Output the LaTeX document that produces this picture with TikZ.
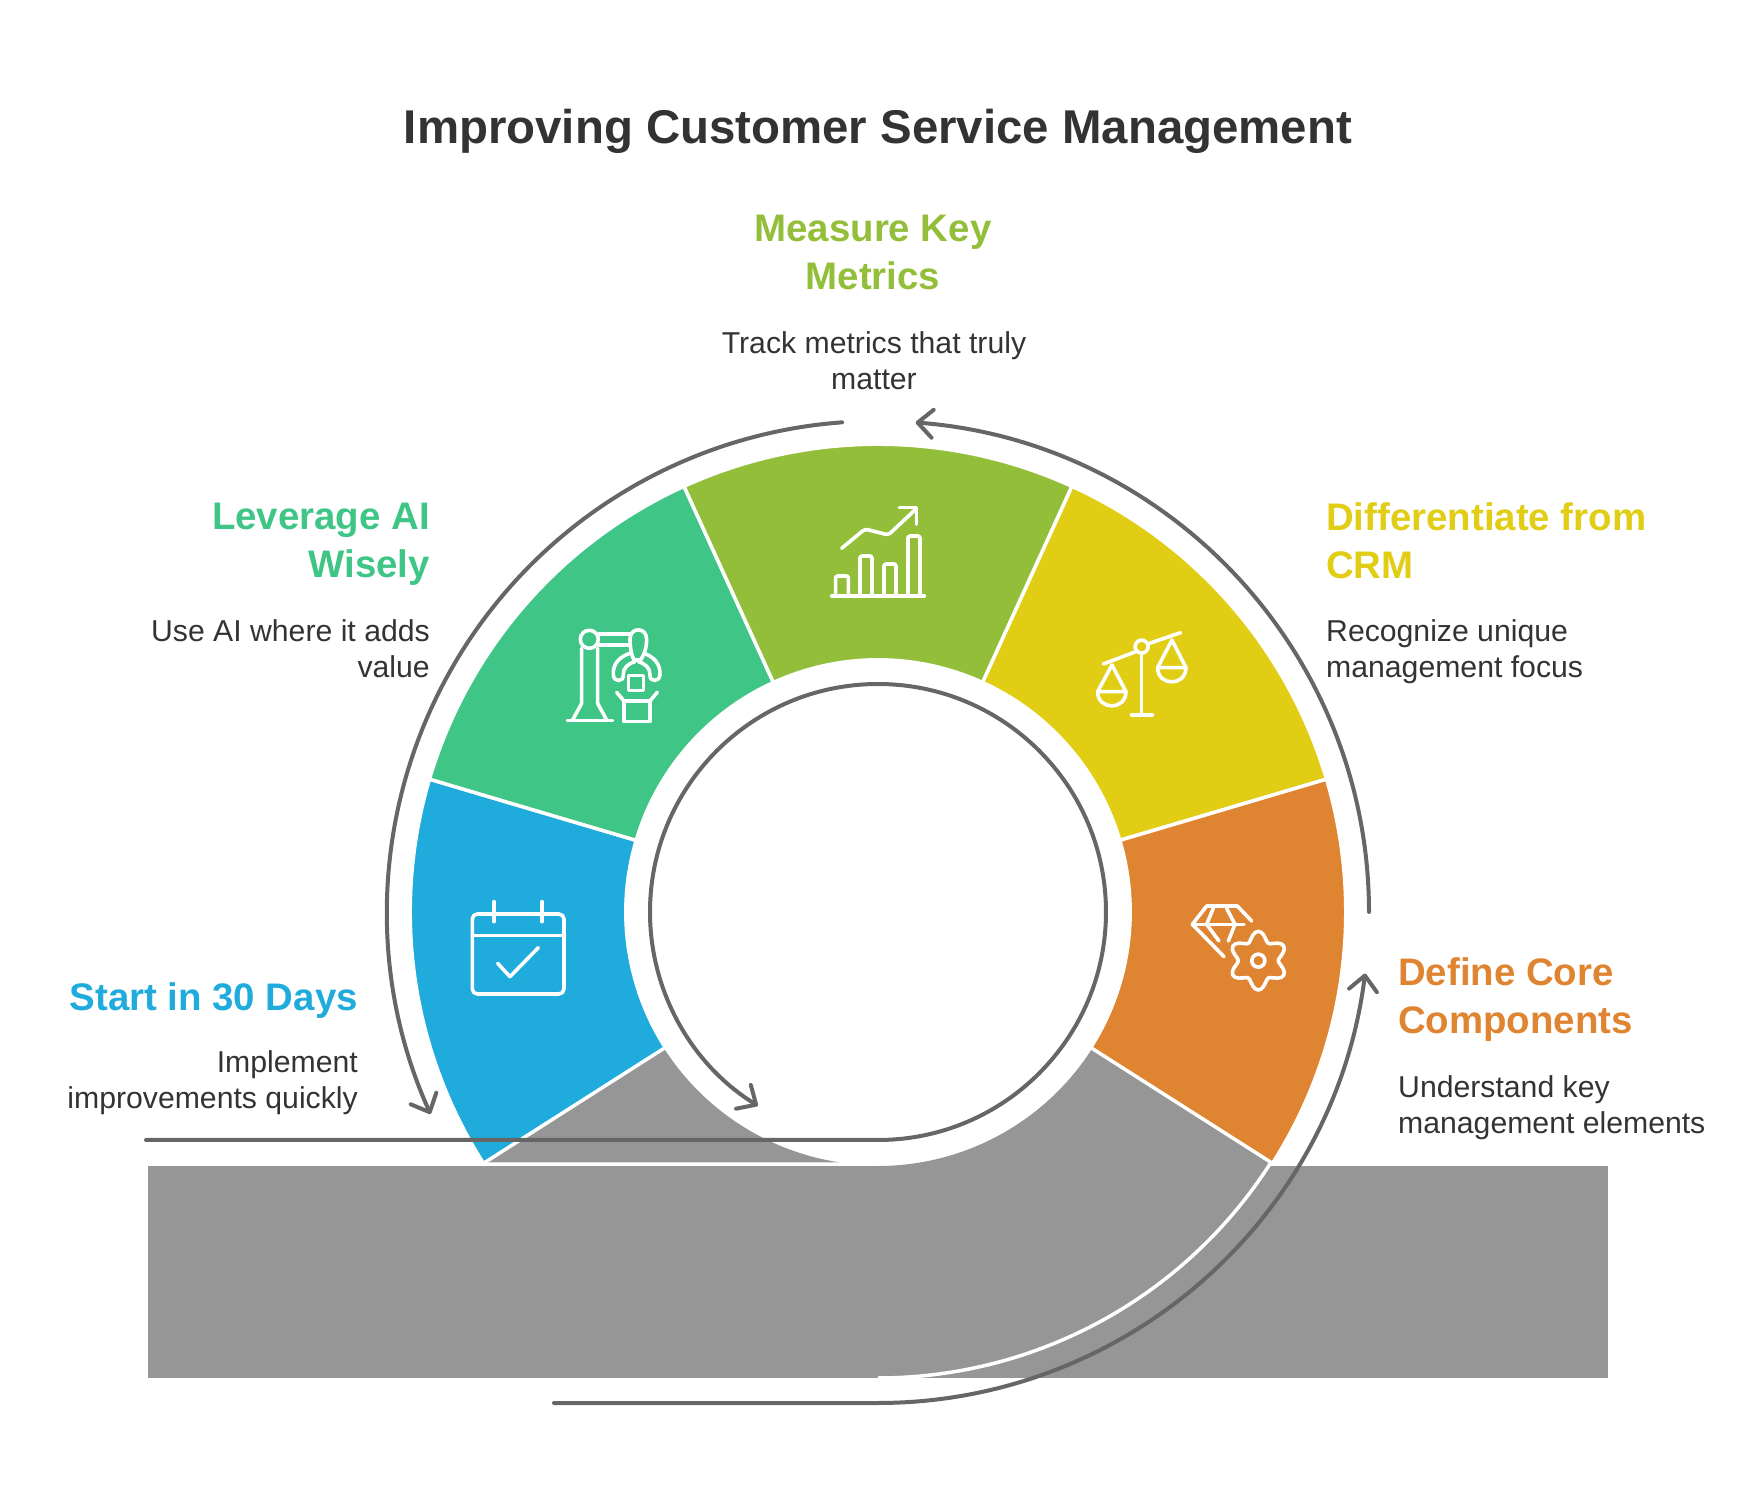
\documentclass[tikz,border=0pt]{standalone}
\usepackage{fontspec}
\setmainfont{Liberation Sans}
\usetikzlibrary{arrows.meta}
\definecolor{inkdark}{HTML}{333333}
\definecolor{flowgray}{HTML}{666666}
\definecolor{bandgray}{HTML}{969696}
\definecolor{stepblue}{HTML}{1FABDC}
\definecolor{stepgreen}{HTML}{3FC585}
\definecolor{steplime}{HTML}{93BE3A}
\definecolor{stepyellow}{HTML}{E0CD14}
\definecolor{steporange}{HTML}{DF8431}
\tikzset{
  flow/.style={draw=flowgray,line width=4pt,line cap=round,-{Straight Barb[length=15pt,width=28pt,round]}},
  sector/.style={draw=white,line width=3.5pt,line join=miter},
  icon/.style={draw=white,line width=3.6pt,line cap=round,line join=round},
  heading/.style={inner sep=0pt,font=\fontsize{38.4}{48}\selectfont\bfseries},
  blurb/.style={inner sep=0pt,text=inkdark,font=\fontsize{30.2}{36}\selectfont}
}
\begin{document}
\begin{tikzpicture}[x=1pt,y=1pt]
  \useasboundingbox (-878,-586) rectangle (878,912);
  % band under the ring
  \fill[bandgray] (-730,-254) rectangle (730,-466);
  \fill[bandgray] (212.5:254) -- (212.5:466) -- (-39,-250.3)
    arc[start angle=261.2,end angle=212.5,radius=254] -- cycle;
  \fill[bandgray] (0,-254) arc[start angle=270,end angle=327.5,radius=254]
    -- (-32.5:466) -- (392,-254) -- cycle;
  \draw[white,line width=3.5pt] (-32.5:466) arc[start angle=-32.5,end angle=-90,radius=466];
  % ring
  \foreach \a/\c in {212.5/stepblue,163.5/stepgreen,114.5/steplime,65.5/stepyellow,16.5/steporange}{
    \draw[sector,fill=\c] (\a:252.2) arc[start angle=\a,end angle=\a-49,radius=252.2]
      -- (\a-49:467.8) arc[start angle=\a-49,end angle=\a,radius=467.8] -- cycle;
  }
  % arrows
  \coordinate (innerstart) at (-732,-228);
  \coordinate (innerbottom) at (0,-228);
  \coordinate (leftstart) at (94.2:491);
  \coordinate (rightstart) at (0:491);
  \coordinate (lowstart) at (-324,-491);
  \coordinate (lowbottom) at (0,-491);
  \draw[flow] (innerstart) -- (innerbottom) arc[start angle=-90,end angle=238.2,radius=228];
  \draw[flow] (leftstart) arc[start angle=94.2,end angle=204.3,radius=491];
  \draw[flow] (rightstart) arc[start angle=0,end angle=85.6,radius=491];
  \draw[flow] (lowstart) -- (lowbottom) arc[start angle=-90,end angle=-7.2,radius=491];
  % texts
  \node[anchor=center,inner sep=0pt,text=inkdark,font=\fontsize{47.4}{52}\selectfont\bfseries] (title) at (0,780.5)
    {Improving Customer Service Management};
  \node[heading,anchor=north,align=center,text=steplime] (measurehead) at (-5,697) {Measure Key\\Metrics};
  \node[blurb,anchor=north,align=center] (measuretext) at (-4,581) {Track metrics that truly\\matter};
  \node[heading,anchor=north east,align=right,text=stepgreen] (aihead) at (-448,409) {Leverage AI\\Wisely};
  \node[blurb,anchor=north east,align=right] (aitext) at (-448,293) {Use AI where it adds\\value};
  \node[heading,anchor=north west,align=left,text=stepyellow] (crmhead) at (448,410) {Differentiate from\\CRM};
  \node[blurb,anchor=north west,align=left] (crmtext) at (448,293) {Recognize unique\\management focus};
  \node[heading,anchor=north east,align=right,text=stepblue] (starthead) at (-520,-70) {Start in 30 Days};
  \node[blurb,anchor=north east,align=right] (starttext) at (-520,-138.5) {Implement\\improvements quickly};
  \node[heading,anchor=north west,align=left,text=steporange] (corehead) at (520,-45) {Define Core\\Components};
  \node[blurb,anchor=north west,align=left] (coretext) at (520,-163) {Understand key\\management elements};
  % chart icon
  \begin{scope}[shift={(-78,432)},x=.3333pt,y=-.3333pt,icon]
    \draw (95,348) -- (373,348);
    \draw[rounded corners=2pt] (107,345) -- (107,288) -- (145,288) -- (145,345);
    \draw[rounded corners=2pt] (180,345) -- (180,228) -- (216,228) -- (216,345);
    \draw[rounded corners=2pt] (252,345) -- (252,252) -- (288,252) -- (288,345);
    \draw[rounded corners=2pt] (324,345) -- (324,168) -- (360,168) -- (360,345);
    \draw[rounded corners=3pt] (125,205) -- (195,147) -- (265,165) -- (350,85);
    \draw (298,83) -- (350,83) -- (350,133);
  \end{scope}
  % scales icon
  \begin{scope}[shift={(-78,432)},x=.3333pt,y=-.3333pt,icon]
    \draw (1025,500) circle[radius=6.5pt];
    \draw (1025,520) -- (1025,705);
    \draw (995,705) -- (1057,705);
    \draw (910,552) -- (1008,515);
    \draw (1043,492) -- (1142,458);
    \draw (893,635) -- (936,555) -- (978,635) -- cycle;
    \draw (893,635) .. controls (893,692) and (978,692) .. (978,635);
    \draw (1073,563) -- (1116,480) -- (1158,563) -- cycle;
    \draw (1073,563) .. controls (1073,620) and (1158,620) .. (1158,563);
  \end{scope}
  % robot icon
  \begin{scope}[shift={(-458,432)},x=.3333pt,y=-.3333pt,icon]
    \draw (508,478) circle[radius=9pt];
    \draw (485,505) -- (485,670) -- (458,720);
    \draw (533,505) -- (533,670) -- (560,720);
    \draw (442,722) -- (578,722);
    \draw (537,462) -- (630,462);
    \draw (537,495) -- (627,495);
    \draw (630,478) .. controls (630,440) and (680,440) .. (680,478)
      .. controls (680,505) and (672,525) .. (662,540) -- (642,540)
      .. controls (634,525) and (630,500) .. (630,478) -- cycle;
    \draw (630,520) .. controls (600,530) and (578,550) .. (580,585)
      .. controls (582,608) and (612,606) .. (610,585)
      .. controls (608,565) and (625,550) .. (645,545);
    \draw (672,520) .. controls (700,530) and (722,550) .. (720,585)
      .. controls (718,608) and (688,606) .. (690,585)
      .. controls (692,565) and (675,550) .. (655,545);
    \draw (625,586) rectangle (670,632);
    \draw (612,663) -- (612,725) -- (690,725) -- (690,663) -- cycle;
    \draw (612,663) -- (590,637);
    \draw (690,663) -- (712,637);
  \end{scope}
  % calendar icon
  \begin{scope}[shift={(-448,32)},x=.3333pt,y=-.3333pt,icon]
    \draw[rounded corners=5pt] (127,102) rectangle (402,342);
    \draw (127,167) -- (402,167);
    \draw (192,65) -- (192,125);
    \draw (336,65) -- (336,125);
    \draw (203,250) -- (240,290) -- (325,203);
  \end{scope}
  % gem and gear icon
  \begin{scope}[shift={(272,32)},x=.3333pt,y=-.3333pt,icon]
    \draw (305,123) -- (262,78) -- (170,78) -- (127,133) -- (222,230);
    \draw (127,133) -- (282,133);
    \draw (190,85) -- (170,133) -- (207,183);
    \draw (230,85) -- (255,133) -- (235,183);
    \draw (325,242) circle[radius=6.5pt];
    \draw plot[domain=0:354,samples=60,smooth cycle]
      ({325+(74+14*cos(6*\x-540))*cos(\x)},{242+(74+14*cos(6*\x-540))*sin(\x)});
  \end{scope}
\end{tikzpicture}
\end{document}
